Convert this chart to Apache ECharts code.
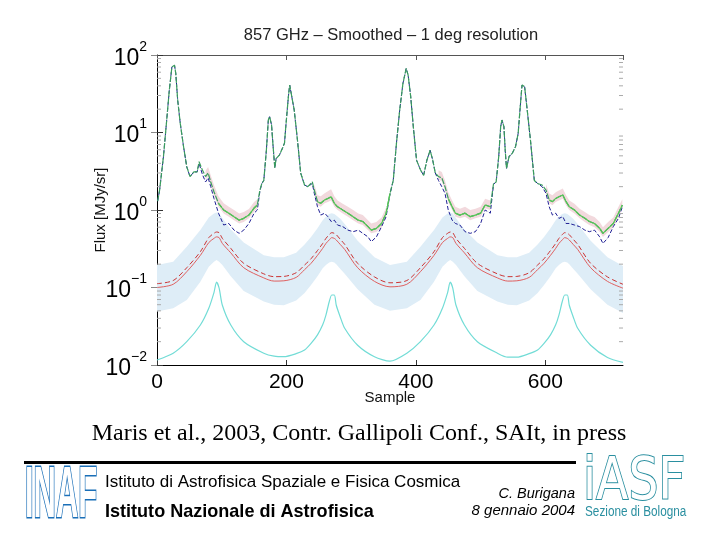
<!DOCTYPE html>
<html><head><meta charset="utf-8">
<script src="https://cdn.jsdelivr.net/npm/echarts/dist/echarts.min.js"></script>
<style>html,body{margin:0;padding:0;background:#fff}#c{width:720px;height:540px}</style>
</head><body><div id="c"></div><script>
// ---------- data ----------
const xTicks = [0, 200, 400, 600];
const yTicks = [0.01, 0.1, 1, 10, 100];
const minorTickValues = [0.02,0.03,0.04,0.05,0.06,0.07,0.08,0.09,0.2,0.3,0.4,0.5,0.6,0.7,0.8,0.9,2,3,4,5,6,7,8,9,20,30,40,50,60,70,80,90];

const greenX = [1,4,10,15,19,23,27,29,32,36,41,46,51,57,62,65,70,75,79,83,88,95,103,111,119,127,134,142,150,155,159,162,165,169,172,174,177,179,182,184,189,194,197,199,203,205,208,212,217,222,228,233,240,243,248,253,259,264,269,274,279,287,295,303,311,318,326,331,339,347,354,360,365,370,375,380,385,388,392,396,401,407,412,417,422,426,430,435,440,445,450,456,461,468,476,484,492,500,507,515,520,524,528,531,533,536,538,540,544,549,554,558,562,564,568,572,577,583,588,595,601,606,611,616,621,627,632,637,645,653,661,668,676,684,689,697,705,713,719];
const greenY = [1.3,1.8,4.9,14.5,35,70,74,58,26,13,6.6,3.6,2.7,3.1,3.1,4.2,3.3,2.7,3.0,2.3,1.72,1.22,1.0,0.91,0.82,0.74,0.78,0.86,1.06,1.16,1.81,2.2,2.4,5.9,14.5,16,12.5,7.3,3.5,4.6,5.1,6.3,7.3,11.9,29,41,39,19.5,8,3.0,2.1,2.0,2.3,1.81,1.28,1.22,1.35,1.41,1.48,1.22,1.1,1.0,0.91,0.82,0.74,0.71,0.61,0.55,0.58,0.67,0.91,1.64,2.4,7.3,19.5,43,67,55,29,11.9,4.4,3.3,2.8,4.4,5.9,4.4,3.0,2.7,2.6,2.0,1.41,1.1,0.91,0.86,0.91,0.82,0.86,0.91,1.16,1.1,2.2,2.3,4.9,11.9,14.5,11.9,5.9,3.45,4.9,5.4,6.6,9.7,26,41,39,19.5,8,2.4,2.2,2.1,1.81,1.35,1.28,1.41,1.48,1.56,1.28,1.1,1.0,0.86,0.78,0.71,0.67,0.58,0.50,0.58,0.67,0.91,1.16];
const blueY = [1.3,1.8,4.9,14.5,35,70,74,58,26,13,6.6,3.6,2.7,3.1,3.1,4.0,2.9,2.3,2.6,2.0,1.41,0.91,0.64,0.67,0.55,0.50,0.55,0.67,0.91,1.0,1.75,2.2,2.4,5.9,14.5,16,12.5,7.3,3.5,4.6,5.1,6.3,7.3,11.9,29,41,39,19.5,8,3.0,2.1,2.0,2.2,1.64,1.1,0.86,0.91,0.82,0.71,0.74,0.64,0.61,0.55,0.525,0.55,0.50,0.45,0.39,0.45,0.61,0.82,1.6,2.4,7.3,19.5,43,67,55,29,11.9,4.4,3.3,2.8,4.4,5.9,4.4,3.0,2.4,2.0,1.64,1.0,0.74,0.67,0.64,0.525,0.50,0.525,0.67,1.0,0.91,2.15,2.3,4.9,11.9,14.5,11.9,5.9,3.45,4.9,5.4,6.6,9.7,26,41,39,19.5,8,2.4,2.2,2.0,1.64,1.1,0.86,0.91,0.78,0.82,0.67,0.67,0.64,0.61,0.55,0.525,0.55,0.45,0.37,0.44,0.61,0.78,1.1];

const pinkX  = [75,79,83,88,95,103,111,119,127,134,142,150,155,null,243,248,253,259,264,269,274,279,287,295,303,311,318,326,331,339,347,354,null,435,440,445,450,456,461,468,476,484,492,500,507,515,null,601,606,611,616,621,627,632,637,645,653,661,668,676,684,689,697,705,713,719];
const pinkHi = [3.2,3.6,2.8,2.1,1.5,1.22,1.1,1.0,0.9,0.94,1.03,1.27,1.38,null,2.15,1.55,1.5,1.65,1.75,1.85,1.5,1.33,1.2,1.1,1.0,0.9,0.86,0.74,0.67,0.7,0.8,1.08,null,3.25,3.1,2.4,1.7,1.33,1.1,1.04,1.1,1.0,1.04,1.1,1.4,1.33,null,2.15,1.63,1.55,1.7,1.78,1.9,1.55,1.33,1.2,1.04,0.94,0.86,0.81,0.7,0.6,0.7,0.8,1.1,1.38];
const pinkLo = [2.45,2.7,2.1,1.55,1.1,0.9,0.82,0.74,0.67,0.7,0.78,0.95,1.05,null,1.65,1.15,1.1,1.22,1.27,1.33,1.1,1.0,0.9,0.82,0.74,0.67,0.64,0.55,0.5,0.52,0.6,0.82,null,2.45,2.35,1.8,1.27,1.0,0.82,0.78,0.82,0.74,0.78,0.82,1.05,1.0,null,1.65,1.22,1.15,1.27,1.33,1.4,1.15,1.0,0.9,0.78,0.7,0.64,0.6,0.52,0.45,0.52,0.6,0.82,1.05];

const smoothX = [0,25,46,67,80,88,92,96,101,114,134,165,181,196,215,228,238,248,256,261,266,270,274,277,283,290,310,336,360,386,407,428,441,449,453,457,462,475,495,526,542,556,575,588,598,608,616,621,626,630,634,637,643,650,670,696,720];
const cyanY = [0.0116,0.0142,0.020,0.0328,0.054,0.086,0.117,0.098,0.059,0.0328,0.020,0.0142,
  0.0130,0.0128,0.0140,0.0156,0.019,0.0245,0.033,0.044,0.065,0.080,0.080,0.059,0.042,0.0298,0.018,0.0128,0.0112,
  0.0142,0.020,0.0328,0.054,0.086,0.117,0.098,0.059,0.0328,0.020,0.0142,
  0.0126,0.0126,0.0140,0.0156,0.019,0.0245,0.033,0.044,0.065,0.080,0.080,0.059,0.042,0.0298,0.018,0.0125,0.0108];
const redY = [0.100,0.110,0.16,0.26,0.38,0.43,0.45,0.44,0.37,0.28,0.18,0.133,
  0.121,0.122,0.135,0.17,0.205,0.26,0.32,0.37,0.41,0.44,0.43,0.41,0.36,0.31,0.18,0.12,0.102,
  0.110,0.16,0.26,0.38,0.43,0.45,0.44,0.37,0.28,0.18,0.133,
  0.121,0.122,0.135,0.17,0.205,0.26,0.32,0.37,0.41,0.44,0.43,0.41,0.36,0.31,0.18,0.12,0.098];
const redDashY = [0.112,0.123,0.18,0.29,0.44,0.50,0.52,0.51,0.43,0.32,0.205,0.15,
  0.138,0.139,0.155,0.195,0.235,0.30,0.37,0.43,0.48,0.51,0.50,0.48,0.42,0.36,0.205,0.137,0.115,
  0.123,0.18,0.29,0.44,0.50,0.52,0.51,0.43,0.32,0.205,0.15,
  0.138,0.139,0.155,0.195,0.235,0.30,0.37,0.43,0.48,0.51,0.50,0.48,0.42,0.36,0.205,0.137,0.11];
const bandHi = [0.195,0.215,0.336,0.55,0.80,0.90,0.93,0.90,0.78,0.56,0.38,0.26,
  0.245,0.245,0.28,0.36,0.45,0.58,0.74,0.82,0.89,0.91,0.89,0.85,0.77,0.66,0.40,0.245,0.195,
  0.215,0.336,0.55,0.80,0.90,0.93,0.90,0.78,0.56,0.38,0.26,
  0.245,0.245,0.28,0.36,0.45,0.58,0.74,0.82,0.89,0.91,0.89,0.85,0.77,0.66,0.40,0.245,0.19];
const bandLo = [0.049,0.054,0.069,0.119,0.185,0.215,0.226,0.215,0.195,0.14,0.09,0.066,
  0.060,0.059,0.068,0.085,0.108,0.14,0.177,0.195,0.21,0.215,0.21,0.20,0.175,0.15,0.095,0.060,0.050,
  0.054,0.069,0.119,0.185,0.215,0.226,0.215,0.195,0.14,0.09,0.066,
  0.060,0.059,0.068,0.085,0.108,0.14,0.177,0.195,0.21,0.215,0.21,0.20,0.175,0.15,0.095,0.060,0.047];

// ---------- helpers ----------
const X_MIN = 0, X_MAX = 720;
const GREEN_SPLIT = 1.7;   // light green drawn where the curve is in the low (pink-band) regime
const pairs = (xs, ys) => xs.map((x, i) => [x, ys[i]]);
const lowPart = (xs, ys) => xs.map((x, i) => [x, ys[i] <= GREEN_SPLIT ? ys[i] : '-']);
function bandSeries(xs, lo, hi, color, z) {
  const segs = []; let cur = [];
  xs.forEach((x, i) => { if (x == null) { if (cur.length) segs.push(cur); cur = []; } else cur.push(i); });
  if (cur.length) segs.push(cur);
  return {
    type: 'custom', z: z, silent: true,
    data: segs.map(s => [xs[s[0]], hi[s[0]]]),
    encode: { x: 0, y: 1 },
    renderItem(params, api) {
      const seg = segs[params.dataIndex];
      const top = seg.map(i => api.coord([xs[i], hi[i]]));
      const bot = seg.slice().reverse().map(i => api.coord([xs[i], lo[i]]));
      return { type: 'polygon', shape: { points: top.concat(bot) }, style: { fill: color } };
    }
  };
}
const sup = e => e < 0 ? '\u2212' + (-e) : String(e);

const chart = echarts.init(document.getElementById('c'), null, { renderer: 'canvas' });
const FONT = 'Liberation Sans';
chart.setOption({
  animation: false,
  backgroundColor: '#ffffff',
  grid: { left: 157, right: 97, top: 55, bottom: 175, outerBoundsMode: 'none', containLabel: false },
  xAxis: [{
    type: 'value', min: X_MIN, max: X_MAX, interval: 200, position: 'bottom',
    name: 'Sample', nameLocation: 'middle', nameGap: 25, nameMoveOverlap: false,
    nameTextStyle: { fontFamily: FONT, fontSize: 15, color: '#111' },
    axisLine: { show: true, onZero: false, lineStyle: { color: '#000', width: 1 } },
    axisTick: { show: true, inside: true, length: 5, lineStyle: { color: '#333' } },
    axisLabel: { show: true, margin: 7, fontFamily: FONT, fontSize: 21, color: '#000', showMaxLabel: false,
      formatter: v => xTicks.indexOf(v) >= 0 ? String(v) : '' },
    splitLine: { show: false }
  }, {
    type: 'value', min: X_MIN, max: X_MAX, interval: 200, position: 'top',
    axisLine: { show: true, onZero: false, lineStyle: { color: '#555', width: 1 } },
    axisTick: { show: true, inside: true, length: 5, lineStyle: { color: '#555' } },
    axisLabel: { show: false }, splitLine: { show: false }
  }],
  yAxis: [{
    type: 'log', logBase: 10, min: 0.01, max: 100, position: 'left',
    name: 'Flux [MJy/sr]', nameLocation: 'middle', nameGap: 49, nameRotate: 90, nameMoveOverlap: false,
    nameTextStyle: { fontFamily: FONT, fontSize: 15, color: '#111' },
    axisLine: { show: true, onZero: false, lineStyle: { color: '#000', width: 1 } },
    axisTick: { show: true, inside: true, length: 6, lineStyle: { color: '#333' } },
    axisLabel: {
      show: true, margin: 10, color: '#000',
      formatter: v => '{b|10}{e|' + sup(Math.round(Math.log10(v))) + '}',
      rich: {
        b: { fontFamily: FONT, fontSize: 23, color: '#000', lineHeight: 30, verticalAlign: 'bottom' },
        e: { fontFamily: FONT, fontSize: 14, color: '#000', lineHeight: 30, verticalAlign: 'top' }
      }
    },
    splitLine: { show: false }
  }, {
    type: 'log', logBase: 10, min: 0.01, max: 100, position: 'right',
    axisLine: { show: false },
    axisTick: { show: true, inside: true, length: 6, lineStyle: { color: '#888' } },
    axisLabel: { show: false }, splitLine: { show: false }
  }],
  series: [
    bandSeries(smoothX, bandLo, bandHi, '#deedf7', 1),
    bandSeries(pinkX, pinkLo, pinkHi, '#f2d9dd', 2),
    { type: 'line', name: 'red', data: pairs(smoothX, redY), showSymbol: false, smooth: 0.3, z: 3,
      lineStyle: { color: '#e06060', width: 1 } },
    { type: 'line', name: 'redDash', data: pairs(smoothX, redDashY), showSymbol: false, smooth: 0.3, z: 3,
      lineStyle: { color: '#cc3333', width: 1, type: [5, 3] } },
    { type: 'line', name: 'cyan', data: pairs(smoothX, cyanY), showSymbol: false, smooth: 0.25, z: 3,
      lineStyle: { color: '#72dcd6', width: 1.2 } },
    {
      type: 'custom', z: 9, silent: true,
      data: minorTickValues.map(v => [X_MIN, v]), encode: { x: 0, y: 1 },
      renderItem(params, api) {
        const v = api.value(1);
        const l = api.coord([X_MIN, v]), r = api.coord([X_MAX, v]);
        return { type: 'group', children: [
          { type: 'line', shape: { x1: l[0], y1: l[1], x2: l[0] + 4, y2: l[1] }, style: { stroke: '#aaaaaa', lineWidth: 1 } },
          { type: 'line', shape: { x1: r[0] - 4, y1: r[1], x2: r[0], y2: r[1] }, style: { stroke: '#aaaaaa', lineWidth: 1 } }
        ] };
      }
    },
    { type: 'line', name: 'blue', data: pairs(greenX, blueY), showSymbol: false, z: 4,
      lineStyle: { color: '#1f1f95', width: 1, type: [4, 2] } },
    { type: 'line', name: 'green', data: pairs(greenX, greenY), showSymbol: false, z: 5,
      lineStyle: { color: '#3a9d5d', width: 1.2, type: [6, 1.5] } },
    { type: 'line', name: 'greenLow', data: lowPart(greenX, greenY), showSymbol: false, z: 6, connectNulls: false,
      lineStyle: { color: '#55c655', width: 1.2 } }
  ],
  graphic: [
    { type: 'text', x: 391, y: 35, style: { text: '857 GHz \u2013 Smoothed \u2013 1 deg resolution', fill: '#222', font: '16.5px "Liberation Sans"', align: 'center', verticalAlign: 'middle' } },
    { type: 'text', x: 359, y: 434, style: { text: 'Maris et al., 2003, Contr. Gallipoli Conf., SAIt, in press', fill: '#000', font: '24px "Liberation Serif"', align: 'center', verticalAlign: 'middle' } },
    { type: 'rect', shape: { x: 24, y: 461, width: 552, height: 3 }, style: { fill: '#000' } },
    { type: 'text', x: 25, y: 497, scaleX: 0.43, style: { text: 'INAF', fill: '#ffffff', stroke: '#1a6fb8', lineWidth: 3, font: 'bold 72px "Liberation Sans"', align: 'left', verticalAlign: 'middle' } },
    { type: 'text', x: 105, y: 482, style: { text: 'Istituto di Astrofisica Spaziale e Fisica Cosmica', fill: '#000', font: '17px "Liberation Sans"', align: 'left', verticalAlign: 'middle' } },
    { type: 'text', x: 105, y: 512, scaleX: 0.95, style: { text: 'Istituto Nazionale di Astrofisica', fill: '#000', font: 'bold 19px "Liberation Sans"', align: 'left', verticalAlign: 'middle' } },
    { type: 'text', x: 575, y: 494, style: { text: 'C. Burigana', fill: '#000', font: 'italic 14.5px "Liberation Sans"', align: 'right', verticalAlign: 'middle' } },
    { type: 'text', x: 575, y: 511, style: { text: '8 gennaio 2004', fill: '#000', font: 'italic 15px "Liberation Sans"', align: 'right', verticalAlign: 'middle' } },
    { type: 'text', x: 583, y: 484, scaleX: 0.8, style: { text: 'iASF', fill: '#ffffff', stroke: '#2a8fa0', lineWidth: 2, font: '59px "DejaVu Sans"', align: 'left', verticalAlign: 'middle' } },
    { type: 'text', x: 585, y: 512, scaleX: 0.84, style: { text: 'Sezione di Bologna', fill: '#2a8fa0', font: '14px "Liberation Sans"', align: 'left', verticalAlign: 'middle' } }
  ]
});
</script></body></html>
